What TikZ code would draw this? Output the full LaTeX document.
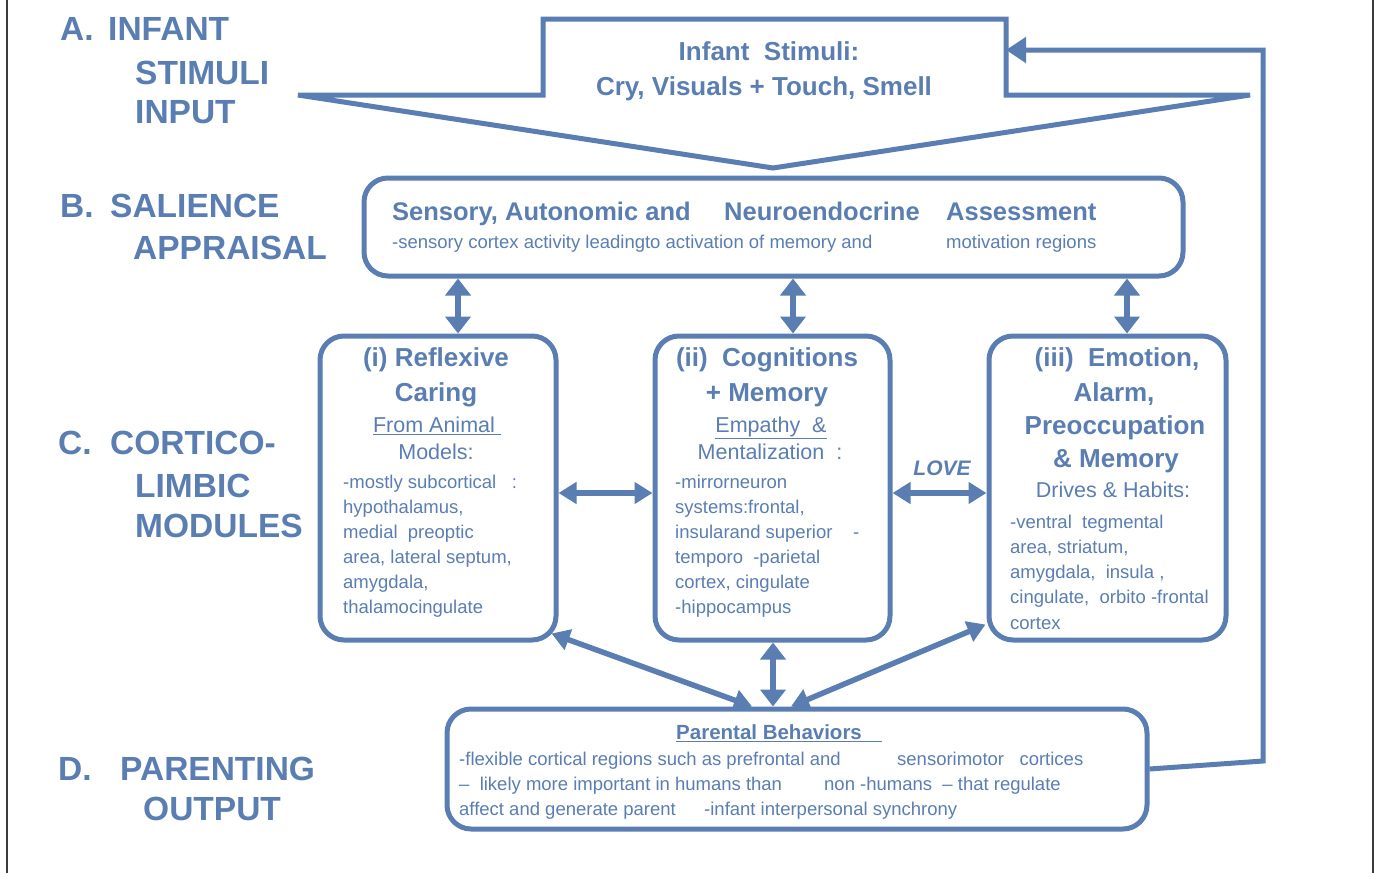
\documentclass[tikz,border=0pt]{standalone}
\usepackage{fontspec}
\setmainfont{Liberation Sans}
\usetikzlibrary{arrows.meta}
\definecolor{blu}{HTML}{5A7DB2}
\definecolor{edge}{HTML}{3C3C3C}
\begin{document}
\begin{tikzpicture}[x=1pt,y=-1pt,
  every node/.style={inner sep=0pt,text=blu},
  box/.style={draw=blu,line width=5pt,rounded corners=24pt},
  lbl/.style={font=\fontsize{33.5}{36}\selectfont\bfseries,anchor=mid west,yshift=-10pt},
  ttl/.style={font=\fontsize{26}{28}\selectfont\bfseries,anchor=mid,yshift=-7pt},
  sub/.style={font=\fontsize{21.5}{24}\selectfont,anchor=mid,yshift=-5pt},
  body/.style={font=\fontsize{18.5}{20}\selectfont,anchor=mid west,yshift=-5pt},
  hdr/.style={font=\fontsize{25.5}{28}\selectfont\bfseries,anchor=mid west,yshift=-7pt},
  dbl/.style={blu,line width=6pt,{Triangle[length=17pt,width=25pt]}-{Triangle[length=17pt,width=25pt]}},
  dbls/.style={blu,line width=5.5pt,{Triangle[length=18pt,width=21pt]}-{Triangle[length=18pt,width=21pt]}},
  feed/.style={blu,line width=5pt,line join=miter,-{Triangle[length=20pt,width=25pt]}}]
\useasboundingbox (0,0) rectangle (1377,873);

% page edges
\draw[edge,line width=1.6pt] (7,0) -- (7,873);
\draw[edge,line width=1.6pt] (1373,0) -- (1373,873);

% section labels
\node[lbl] (la1) at (60,28) {A.};
\node[lbl] (la2) at (108,28) {INFANT};
\node[lbl] (la3) at (135,72) {STIMULI};
\node[lbl] (la4) at (135,111) {INPUT};
\node[lbl] (lb1) at (60,205) {B.};
\node[lbl] (lb2) at (110,205) {SALIENCE};
\node[lbl] (lb3) at (133,247) {APPRAISAL};
\node[lbl] (lc1) at (58,442) {C.};
\node[lbl] (lc2) at (110,442) {CORTICO-};
\node[lbl] (lc3) at (135,485) {LIMBIC};
\node[lbl] (lc4) at (135,525) {MODULES};
\node[lbl] (ld1) at (58,768) {D.};
\node[lbl] (ld2) at (120,768) {PARENTING};
\node[lbl] (ld3) at (143,808) {OUTPUT};

% infant stimuli input arrow
\draw[blu,line width=5pt,line join=miter]
  (298,95) -- (543,95) -- (543,19) -- (1006,19) -- (1006,95) -- (1250,95) -- (773,168) -- cycle;
\coordinate (Tin) at (1006,50);
\node[ttl] (t1) at (769,51) {Infant\ \ Stimuli:};
\node[ttl] (t2) at (764,86) {Cry, Visuals + Touch, Smell};

% salience appraisal
\node[box,minimum width=819pt,minimum height=98pt] (B) at (773.5,227) {};
\node[hdr] (b1) at (392,211) {Sensory, Autonomic and};
\node[hdr] (b2) at (724,211) {Neuroendocrine};
\node[hdr] (b3) at (946,211) {Assessment};
\node[body] (b4) at (392,241) {-sensory cortex activity leadingto activation of memory and};
\node[body] (b5) at (946,241) {motivation regions};

% cortico-limbic modules
\node[box,minimum width=236pt,minimum height=304pt] (C1) at (438,488) {};
\node[box,minimum width=235pt,minimum height=304pt] (C2) at (772.5,488) {};
\node[box,minimum width=237pt,minimum height=304pt] (C3) at (1107.5,488) {};

\node[ttl] (c11) at (436,357) {(i) Reflexive};
\node[ttl] (c12) at (436,392) {Caring};
\node[sub] (c13) at (437,425) {\underline{From Animal\hspace{6pt}}};
\node[sub] (c14) at (436,452) {Models:};
\node[body] (c15) at (343,481) {-mostly subcortical\ \ \ :};
\node[body] (c16) at (343,506) {hypothalamus,};
\node[body] (c17) at (343,531) {medial\ \ preoptic};
\node[body] (c18) at (343,556) {area, lateral septum,};
\node[body] (c19) at (343,581) {amygdala,};
\node[body] (c1a) at (343,606) {thalamocingulate};

\node[ttl] (c21) at (767,357) {(ii)\ \ Cognitions};
\node[ttl] (c22) at (767,392) {+ Memory};
\node[sub] (c23) at (771,425) {\underline{Empathy\ \ \&}};
\node[sub] (c24) at (770,452) {Mentalization\ \ :};
\node[body] (c25) at (675,481) {-mirrorneuron};
\node[body] (c26) at (675,506) {systems:frontal,};
\node[body] (c27) at (675,531) {insularand superior\ \ \ \ -};
\node[body] (c28) at (675,556) {temporo\ \ -parietal};
\node[body] (c29) at (675,581) {cortex, cingulate};
\node[body] (c2a) at (675,606) {-hippocampus};

\node[ttl] (c31) at (1117,357) {(iii)\ \ Emotion,};
\node[ttl] (c32) at (1114,392) {Alarm,};
\node[ttl] (c33) at (1115,425) {Preoccupation};
\node[ttl] (c34) at (1116,458) {\& Memory};
\node[sub] (c35) at (1113,490) {Drives \& Habits:};
\node[body] (c36) at (1010,521) {-ventral\ \ tegmental};
\node[body] (c37) at (1010,546) {area, striatum,};
\node[body] (c38) at (1010,571) {amygdala,\ \ insula ,};
\node[body] (c39) at (1010,596) {cingulate,\ \ orbito -frontal};
\node[body] (c3a) at (1010,622) {cortex};

\node[font=\fontsize{21}{24}\selectfont\bfseries\itshape,yshift=-3pt] (love) at (942,465) {LOVE};

% parenting output
\node[box,minimum width=700pt,minimum height=120pt] (D) at (797,769) {};
\node[font=\fontsize{20.5}{24}\selectfont\bfseries,anchor=mid west,yshift=-5pt] (d0) at (676,732) {\underline{Parental Behaviors\hspace{20pt}}};
\node[body] (d1) at (459,758) {-flexible cortical regions such as prefrontal and};
\node[body] (d2) at (897,758) {sensorimotor\ \ \ cortices};
\node[body] (d3) at (459,783) {--\ \ likely more important in humans than};
\node[body] (d4) at (824,783) {non -humans\ \ -- that regulate};
\node[body] (d5) at (459,808) {affect and generate parent};
\node[body] (d6) at (704,808) {-infant interpersonal synchrony};

% connectors
\draw[dbl] (B.south -| 458,0) -- (C1.north -| 458,0);
\draw[dbl] (B.south -| 793,0) -- (C2.north -| 793,0);
\draw[dbl] (B.south -| 1127,0) -- (C3.north -| 1127,0);
\draw[dbls] (C1.east |- 0,493) -- (C2.west |- 0,493);
\draw[dbls] (C2.east |- 0,493) -- (C3.west |- 0,493);
\draw[dbl] (C2.south -| 773,0) -- (D.north -| 773,0);
\draw[dbls] ([shift={(-7,-9)}]C1.south east) -- (D.north -| 752,0);
\draw[dbls] ([shift={(-1,-18)}]C3.south west) -- (D.north -| 791,0);
\draw[feed] (D.east) -- (1263,761) -- (1263,50) -- (Tin);
\end{tikzpicture}
\end{document}
